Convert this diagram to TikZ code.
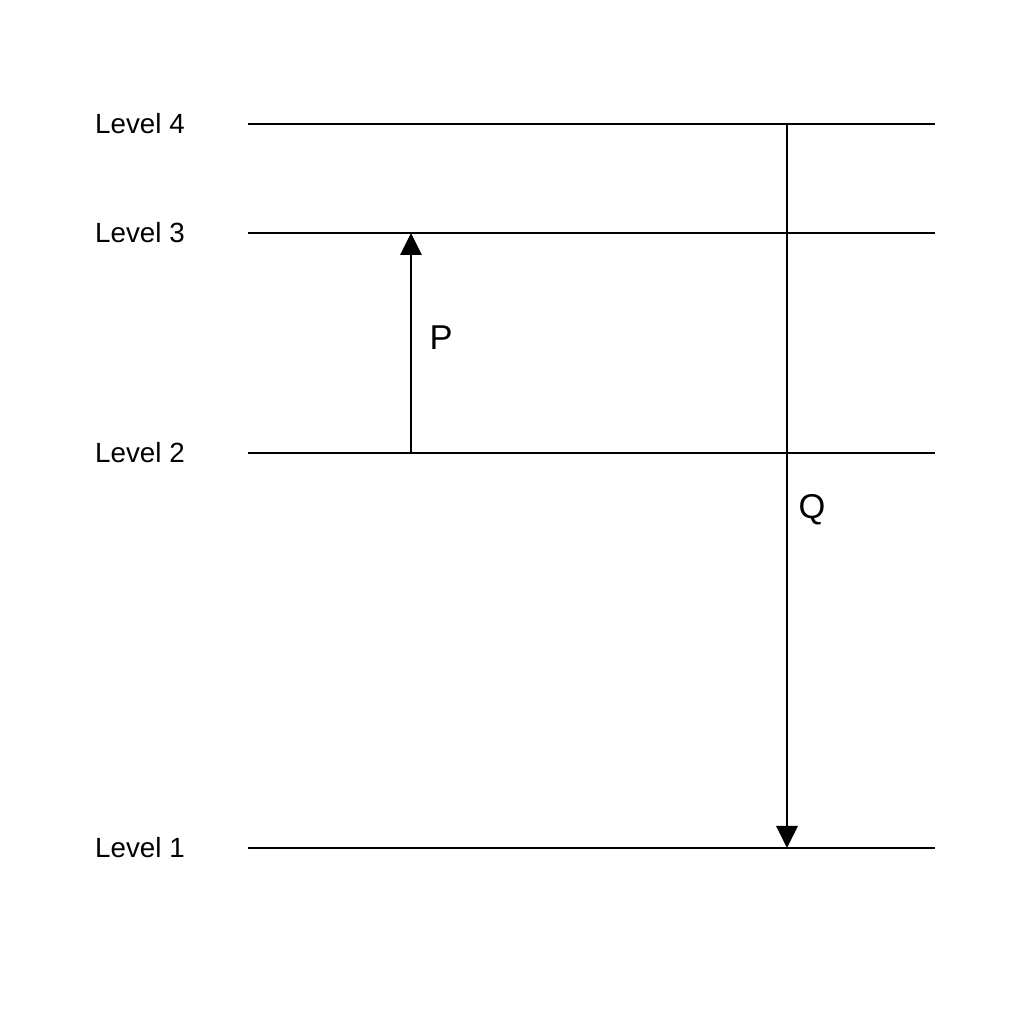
\documentclass[tikz,border=0pt]{standalone}
\usepackage{fontspec}
\setmainfont{Liberation Sans}
\usepackage{tikz}
\usetikzlibrary{arrows.meta}

\begin{document}
\begin{tikzpicture}[line width=0.8pt,
	lvl/.style={font=\fontsize{7.9}{9}\selectfont},
	tr/.style={font=\fontsize{9.8}{11}\selectfont},
	>={Triangle[length=2.2mm,width=2.1mm]}]
\useasboundingbox (0,0) rectangle (10.24,10.24);
	\foreach \n/\y in {4/9.00,3/7.91,2/5.71,1/1.76}{
		\node[lvl] at (1.40,\y) (\n) {Level \n};
		\coordinate (a\n) at (2.48,\y);
		\coordinate (b\n) at (9.35,\y);
		\draw (a\n) -- (b\n);
	}
	\coordinate (p2) at (4.11,5.71);
	\coordinate (p3) at (4.11,7.91);
	\coordinate (q4) at (7.87,9.00);
	\coordinate (q1) at (7.87,1.76);
	\draw [->] (p2) -- (p3);
	\draw [->] (q4) -- (q1);
	\node[tr] at (4.41,6.86) (P) {P};
	\node[tr] at (8.12,5.14) (Q) {Q};
\end{tikzpicture}
\end{document}
